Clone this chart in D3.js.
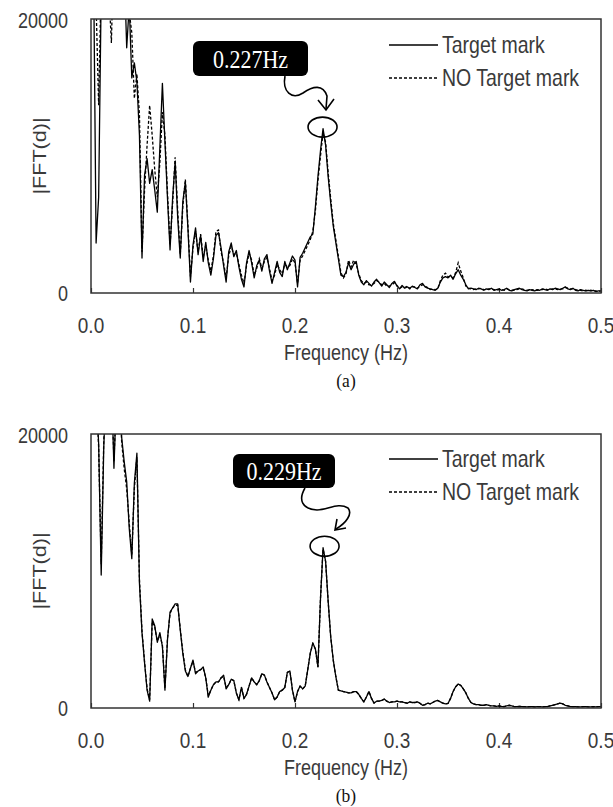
<!DOCTYPE html>
<html>
<head>
<meta charset="utf-8">
<script src="https://cdn.jsdelivr.net/npm/d3@7"></script>
<style>
    body { margin: 0; background: #fff; }
    svg { display: block; }
</style>
</head>
<body>
<svg id="chart" width="613" height="807"></svg>
<script>
// FFT bins, 0 .. 0.5 Hz every 0.0025 Hz (one value per bin below)
const freqHz = d3.range(201).map(i => i * 0.0025);

const xTickLabels = ["0.0", "0.1", "0.2", "0.3", "0.4", "0.5"];
const yTickLabels = ["0", "20000"];
const seriesNames = ["Target mark", "NO Target mark"];
const panelNames = ["(a)", "(b)"];
const peakHz = [0.227, 0.229];
const peakLabels = ["0.227Hz", "0.229Hz"];

// (a) |FFT(d)|, ten bins per row
const targetA = [
    26000, 24000, 3650, 7000, 22000, 25000, 28000, 30000, 27000, 29000,
    31000, 28000, 26000, 24000, 17900, 21000, 15700, 16800, 15400, 11500,
    2550, 8600, 9800, 8000, 9000, 7500, 5900, 10600, 15300, 11000,
    6900, 3150, 6900, 9600, 5500, 2550, 6650, 8100, 4750, 800,
    3500, 4750, 2800, 4200, 2300, 3700, 2200, 1300, 2500, 4200,
    4400, 3300, 2000, 800, 3000, 3650, 2650, 3100, 1900, 1000,
    440, 2200, 3100, 2200, 1100, 2000, 2400, 1600, 2500, 2800,
    1600, 700, 1500, 2300, 1500, 1200, 2300, 1700, 2200, 2700,
    2400, 440, 2600, 2900, 3300, 3700, 4100, 4300, 6300, 8500,
    10400, 12000, 10800, 8500, 6600, 4900, 3700, 2500, 1300, 1200,
    1500, 2200, 1700, 2100, 2300, 1300, 800, 600, 900, 700,
    500, 800, 1000, 750, 500, 800, 600, 400, 700, 850,
    500, 300, 550, 350, 450, 350, 500, 400, 300, 600,
    700, 450, 350, 300, 250, 200, 350, 800, 1100, 1200,
    1100, 1300, 1000, 1400, 1700, 1300, 1000, 600, 300, 350,
    300, 250, 350, 300, 200, 300, 250, 350, 200, 250,
    300, 200, 250, 350, 200, 150, 250, 300, 350, 250,
    200, 150, 250, 200, 150, 250, 200, 300, 250, 200,
    300, 250, 350, 300, 250, 350, 450, 300, 250, 350,
    200, 150, 250, 200, 150, 200, 150, 200, 100, 150,
    150
];
const noTargetA = [
    27000, 25000, 21000, 13700, 23000, 26000, 24000, 22000, 18250, 26000,
    29000, 27000, 25000, 23000, 21000, 20500, 19000, 14200, 16000, 13000,
    3000, 7500, 10800, 13700, 11500, 9000, 7000, 9500, 13200, 11500,
    7300, 3500, 6500, 9900, 6000, 2800, 6300, 8300, 5000, 1200,
    3300, 4500, 3000, 4300, 2600, 3500, 2400, 1600, 2700, 4500,
    4600, 3000, 2200, 1100, 2700, 3400, 2800, 2900, 2100, 1300,
    700, 2000, 2900, 2400, 1300, 1800, 2500, 1800, 2300, 2600,
    1800, 900, 1300, 2100, 1700, 1400, 2100, 1900, 2000, 2500,
    2200, 700, 2400, 2700, 3100, 3500, 3900, 4500, 6000, 8200,
    10000, 11700, 11000, 8800, 6900, 5100, 3900, 2700, 1500, 1100,
    1400, 2400, 1900, 2400, 2100, 1400, 900, 700, 800, 600,
    600, 700, 900, 800, 600, 700, 500, 500, 600, 750,
    550, 350, 450, 400, 500, 300, 450, 450, 350, 500,
    600, 500, 400, 250, 300, 250, 300, 900, 1300, 1450,
    1200, 1200, 1100, 1500, 2200, 1600, 1100, 500, 350, 300,
    250, 300, 300, 350, 250, 250, 300, 300, 250, 200,
    250, 250, 200, 300, 250, 200, 200, 250, 300, 300,
    250, 200, 200, 250, 200, 200, 250, 250, 300, 250,
    250, 300, 300, 250, 300, 300, 400, 350, 300, 300,
    250, 200, 200, 150, 200, 150, 200, 150, 150, 100,
    150
];

// (b) |FFT(d)|
const targetB = [
    25000, 27000, 23000, 19300, 9700, 19000, 24000, 27000, 24000, 17500,
    23000, 25000, 19800, 18000, 16500, 13100, 10900, 16400, 18600, 9100,
    5500, 3300, 1300, 500, 6500, 6000, 4800, 5500, 4500, 1300,
    5000, 7000, 7300, 7600, 7600, 5700, 4000, 2700, 2300, 2900,
    3500, 2500, 2700, 2800, 3000, 2200, 800, 1300, 1700, 1900,
    1900, 2200, 2400, 1400, 1700, 2100, 2000, 1100, 580, 1500,
    700, 1000, 1600, 2200, 1900, 1700, 2000, 2500, 2400, 1900,
    1500, 1100, 600, 800, 1200, 1300, 1500, 2600, 2700, 1300,
    450, 1200, 1600, 1400, 1600, 2800, 4000, 4750, 4300, 3000,
    8000, 11700, 10700, 7800, 5200, 3500, 2300, 1300, 1250, 1200,
    1150, 1100, 1100, 1200, 1200, 1000, 700, 450, 800, 1200,
    700, 360, 500, 500, 550, 650, 500, 400, 450, 450,
    500, 450, 450, 400, 350, 450, 400, 400, 450, 350,
    200, 250, 350, 300, 400, 500, 550, 450, 350, 300,
    330, 700, 1200, 1550, 1750, 1650, 1400, 1100, 700, 400,
    300, 250, 250, 200, 200, 250, 200, 150, 150, 120,
    150, 120, 100, 150, 200, 150, 100, 100, 120, 100,
    100, 80, 100, 100, 80, 100, 100, 80, 100, 100,
    150, 200, 250, 300, 350, 300, 200, 150, 100, 100,
    100, 80, 80, 100, 100, 80, 80, 100, 80, 100,
    100
];
const noTargetB = [
    26000, 27000, 23500, 19000, 10500, 19500, 24000, 27000, 24000, 18000,
    23000, 25000, 19500, 17500, 16000, 13500, 11200, 16000, 18300, 9400,
    5600, 3400, 1400, 600, 6300, 5900, 4900, 5300, 4600, 1400,
    5100, 6900, 7300, 7500, 7500, 5800, 4100, 2800, 2300, 2900,
    3400, 2600, 2700, 2800, 2900, 2200, 900, 1300, 1700, 1900,
    1900, 2200, 2300, 1500, 1700, 2100, 2000, 1100, 600, 1500,
    700, 1000, 1600, 2200, 1900, 1700, 2000, 2500, 2400, 1900,
    1500, 1100, 600, 800, 1200, 1300, 1500, 2600, 2700, 1300,
    450, 1200, 1600, 1400, 1600, 2800, 4000, 4700, 4300, 3000,
    8000, 11600, 10700, 7800, 5200, 3500, 2300, 1300, 1250, 1200,
    1150, 1100, 1100, 1200, 1200, 1000, 700, 450, 800, 1200,
    700, 360, 500, 500, 550, 650, 500, 400, 450, 450,
    500, 450, 450, 400, 350, 450, 400, 400, 450, 350,
    200, 250, 350, 300, 400, 500, 550, 450, 350, 300,
    330, 700, 1200, 1550, 1750, 1650, 1400, 1100, 700, 400,
    300, 250, 250, 200, 200, 250, 200, 150, 150, 120,
    150, 120, 100, 150, 200, 150, 100, 100, 120, 100,
    100, 80, 100, 100, 80, 100, 100, 80, 100, 100,
    150, 200, 250, 300, 350, 300, 200, 150, 100, 100,
    100, 80, 80, 100, 100, 80, 80, 100, 80, 100,
    100
];

const sans = "'Liberation Sans', Arial, sans-serif";
const serif = "'Liberation Serif', 'Times New Roman', serif";
const textColour = "#3a3a3a";
const stretch = 1.2;   // the scanned figure is a bit taller than wide

const svg = d3.select("#chart");

// text that is squeezed vertically like the original
function label(g, x, y, str, size, anchor, family, fill, rotate, sy) {
    let s = sy || stretch;
    let t = g.append("text")
        .attr("transform", `translate(${x},${y})` + (rotate ? ` rotate(${rotate})` : "") + ` scale(${rotate ? s : 1},${rotate ? 1 : s})`)
        .attr("font-family", family || sans)
        .attr("font-size", size)
        .attr("fill", fill || textColour)
        .attr("text-anchor", anchor)
        .attr("dominant-baseline", "central")
        .text(str);
    return t;
}

const panels = [
    {top: 19, bottom: 293, target: targetA, noTarget: noTargetA,
     box: [193, 41, 115, 35], legendY: [45, 78],
     arrow: "M285,76 C282,92 292,100 303,93 C313,86 323,84 327,96 L326,109",
     head: "M318,100 L326,110 L334,99"},
    {top: 434, bottom: 708, target: targetB, noTarget: noTargetB,
     box: [233, 454, 102, 34], legendY: [459, 492],
     arrow: "M305,488 C298,500 302,509 317,510 C328,510 338,502 348,508 C353,514 346,523 336,529",
     head: "M337,519 L335,530 L346,528"}
];

const left = 91, right = 601;
const x = d3.scaleLinear().domain([0, 0.5]).range([left, right]);

panels.forEach((p, k) => {
    const y = d3.scaleLinear().domain([0, 20000]).range([p.bottom, p.top]);
    const g = svg.append("g");

    g.append("clipPath").attr("id", "clip" + k)
        .append("rect").attr("x", left).attr("y", p.top).attr("width", right - left).attr("height", p.bottom - p.top);

    // inner ticks on the x axis
    const ax = g.append("g").attr("transform", `translate(0,${p.bottom})`)
        .call(d3.axisBottom(x).tickValues(xTickLabels.map(Number)).tickSize(-5).tickFormat(""));
    ax.select(".domain").remove();
    ax.selectAll("line").attr("stroke", "#333").attr("stroke-width", 1.2);

    xTickLabels.forEach(t => label(g, x(+t), p.bottom + 32, t, 19, "middle"));
    label(g, 68, y(0), yTickLabels[0], 18, "end");
    label(g, 68, y(20000) + 1, yTickLabels[1], 18, "end");

    label(g, left + (right - left) / 2, p.bottom + 59, "Frequency (Hz)", 18, "middle");
    label(g, 40, (p.top + p.bottom) / 2, "|FFT(d)|", 18, "middle", sans, textColour, -90);
    label(g, left + (right - left) / 2, p.bottom + 87, panelNames[k], 17.5, "middle", serif, "#111", 0, 1.12);

    const line = d3.line().x((d, i) => x(freqHz[i])).y(d => y(d));
    const plot = g.append("g").attr("clip-path", `url(#clip${k})`);
    plot.append("path").datum(p.target).attr("d", line)
        .attr("fill", "none").attr("stroke", "#000").attr("stroke-width", 1.3).attr("stroke-linejoin", "round");
    plot.append("path").datum(p.noTarget).attr("d", line)
        .attr("fill", "none").attr("stroke", "#000").attr("stroke-width", 1.3).attr("stroke-dasharray", "3,2");

    g.append("rect").attr("x", left).attr("y", p.top).attr("width", right - left).attr("height", p.bottom - p.top)
        .attr("fill", "none").attr("stroke", "#333").attr("stroke-width", 1.5);

    // legend
    const lg = g.append("g");
    lg.append("line").attr("x1", 389).attr("x2", 438).attr("y1", p.legendY[0]).attr("y2", p.legendY[0])
        .attr("stroke", "#000").attr("stroke-width", 1.3);
    lg.append("line").attr("x1", 389).attr("x2", 438).attr("y1", p.legendY[1]).attr("y2", p.legendY[1])
        .attr("stroke", "#000").attr("stroke-width", 1.3).attr("stroke-dasharray", "3,2");
    label(lg, 442, p.legendY[0], seriesNames[0], 19.5, "start");
    label(lg, 442, p.legendY[1], seriesNames[1], 19.5, "start");

    // peak callout: circle the highest bin near the marked frequency
    const peak = d3.max(p.target.filter((v, i) => Math.abs(freqHz[i] - peakHz[k]) < 0.01));
    g.append("ellipse").attr("cx", x(peakHz[k])).attr("cy", y(peak) - 1.5).attr("rx", 14.5).attr("ry", 10)
        .attr("fill", "none").attr("stroke", "#000").attr("stroke-width", 1.6);
    const b = p.box;
    g.append("rect").attr("x", b[0]).attr("y", b[1]).attr("width", b[2]).attr("height", b[3]).attr("rx", 6)
        .attr("fill", "#000");
    label(g, b[0] + b[2] / 2, b[1] + b[3] / 2 + 1, peakLabels[k], 22, "middle", serif, "#fff", 0, 1.1);
    g.append("path").attr("d", p.arrow).attr("fill", "none").attr("stroke", "#000").attr("stroke-width", 1.6);
    g.append("path").attr("d", p.head).attr("fill", "none").attr("stroke", "#000").attr("stroke-width", 1.6);
});
</script>
</body>
</html>
